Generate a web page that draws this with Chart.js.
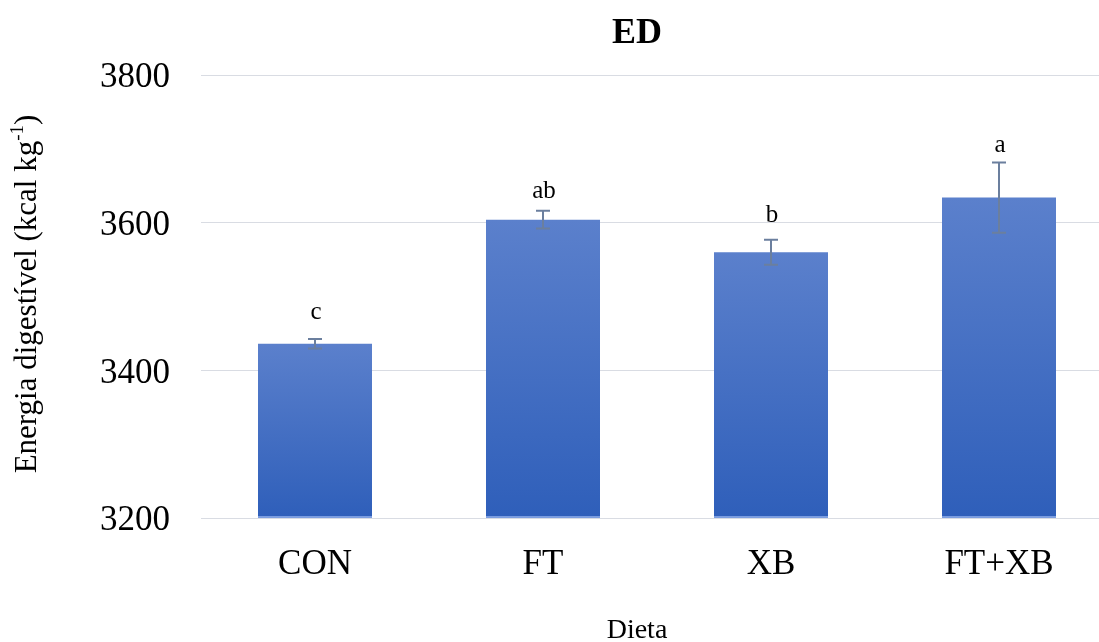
<!DOCTYPE html>
<html>
<head>
<meta charset="utf-8">
<script src="https://cdn.jsdelivr.net/npm/chart.js@4.4.1/dist/chart.umd.min.js"></script>
<style>
html,body{margin:0;padding:0;overflow:hidden;background:#fff;width:1099px;height:642px;}
#wrap{position:absolute;left:0;top:0;width:1274px;height:642px;}
</style>
</head>
<body>
<div id="wrap"><canvas id="c" width="1274" height="642"></canvas></div>
<script>
const categories = ["CON", "FT", "XB", "FT+XB"];
const values = [3436, 3604, 3560, 3634];
const errors = [6.5, 12, 17, 47.5];
const letters = ["c", "ab", "b", "a"];
const letterValues = [3470, 3633, 3601, 3696];
const yTicks = [3200, 3400, 3600, 3800];
const chartTitle = "ED";
const xTitle = "Dieta";
const yTitleMain = "Energia digestível (kcal kg";
const yTitleSup = "-1";
const yTitleEnd = ")";

const SERIF = "'Liberation Serif', 'Times New Roman', serif";

function barGradient(ctx) {
  const chart = ctx.chart;
  if (!chart.chartArea || ctx.type !== 'data') return '#4472c4';
  const ys = chart.scales.y;
  const top = ys.getPixelForValue(values[ctx.dataIndex]);
  const bottom = ys.getPixelForValue(ys.min);
  const h = Math.max(bottom - top, 4);
  const g = chart.ctx.createLinearGradient(0, top, 0, bottom);
  g.addColorStop(0, '#5b80cc');
  g.addColorStop(Math.max(0, (h - 2) / h), '#2f5fba');
  g.addColorStop(Math.max(0, (h - 1.5) / h), '#7b9de0');
  g.addColorStop(1, '#7b9de0');
  return g;
}

const overlay = {
  id: 'overlay',
  afterDatasetsDraw(chart) {
    const c = chart.ctx;
    const ys = chart.scales.y;
    const meta = chart.getDatasetMeta(0);
    c.save();
    // error bars
    c.strokeStyle = '#6b7f9e';
    c.lineWidth = 2;
    meta.data.forEach((bar, i) => {
      const x = bar.x;
      const yt = ys.getPixelForValue(values[i] + errors[i]);
      const yb = ys.getPixelForValue(values[i] - errors[i]);
      c.beginPath();
      c.moveTo(x, yt); c.lineTo(x, yb);
      c.moveTo(x - 7, yt); c.lineTo(x + 7, yt);
      c.moveTo(x - 7, yb); c.lineTo(x + 7, yb);
      c.stroke();
    });
    // letters
    c.fillStyle = '#000';
    c.font = "25px " + SERIF;
    c.textAlign = 'center';
    c.textBaseline = 'alphabetic';
    meta.data.forEach((bar, i) => {
      c.fillText(letters[i], bar.x + 1, ys.getPixelForValue(letterValues[i]));
    });
    // chart title
    c.font = "bold 36px " + SERIF;
    c.fillText(chartTitle, 637, 43);
    // x title
    c.font = "28px " + SERIF;
    c.fillText(xTitle, 637, 638);
    // y title with superscript
    c.translate(36, 294);
    c.rotate(-Math.PI / 2);
    const mainFont = "31px " + SERIF;
    const supFont = "19px " + SERIF;
    c.font = mainFont;
    const w1 = c.measureText(yTitleMain).width;
    const w3 = c.measureText(yTitleEnd).width;
    c.font = supFont;
    const w2 = c.measureText(yTitleSup).width;
    const total = w1 + w2 + w3;
    let x0 = -total / 2;
    c.textAlign = 'left';
    c.font = mainFont;
    c.fillText(yTitleMain, x0, 0);
    c.font = supFont;
    c.fillText(yTitleSup, x0 + w1, -13);
    c.font = mainFont;
    c.fillText(yTitleEnd, x0 + w1 + w2, 0);
    c.restore();
  }
};

new Chart(document.getElementById('c'), {
  type: 'bar',
  data: {
    labels: categories,
    datasets: [{
      data: values,
      backgroundColor: barGradient,
      borderWidth: 0,
      barPercentage: 0.5,
      categoryPercentage: 1.0
    }]
  },
  options: {
    responsive: false,
    animation: false,
    devicePixelRatio: 1,
    layout: { padding: { top: 75, right: 161, left: 0, bottom: 0 } },
    plugins: { legend: { display: false }, tooltip: { enabled: false }, title: { display: false } },
    scales: {
      x: {
        grid: { display: false, drawTicks: false },
        border: { display: false },
        ticks: { color: '#000', font: { family: SERIF, size: 35 }, padding: 26, maxRotation: 0 },
        afterFit(s) { s.height = 124; }
      },
      y: {
        min: 3200, max: 3800,
        afterBuildTicks(s) { s.ticks = yTicks.map(v => ({ value: v })); },
        grid: { color: '#d9dce3', lineWidth: 1, drawTicks: false },
        border: { display: false },
        ticks: { color: '#000', font: { family: SERIF, size: 35 }, padding: 31, labelOffset: 3, callback: (v) => String(v) },
        afterFit(s) { s.width = 201; }
      }
    }
  },
  plugins: [overlay]
});
</script>
</body>
</html>
